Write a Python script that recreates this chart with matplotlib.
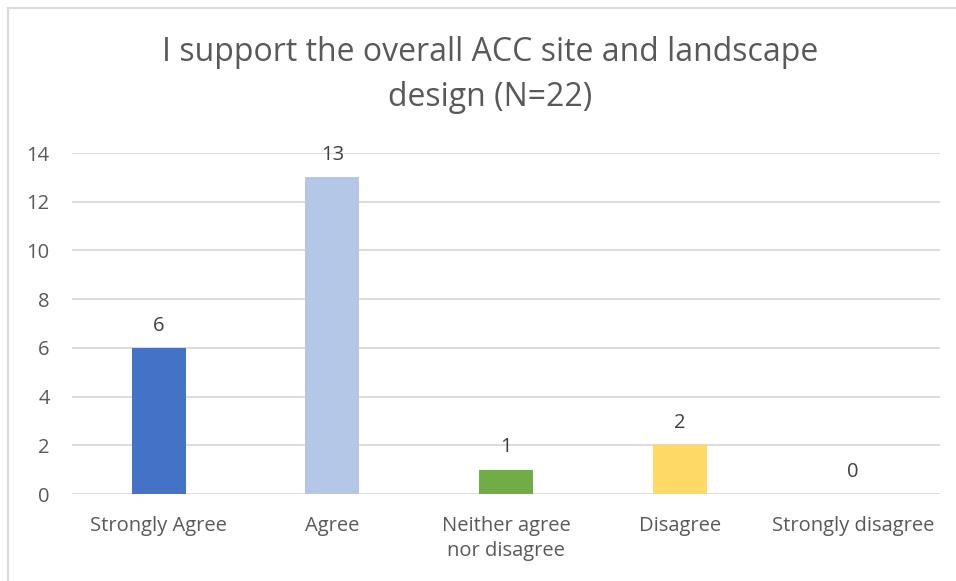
import matplotlib
matplotlib.use('Agg')
from matplotlib import pyplot as plt
from matplotlib.lines import Line2D

categories = ['Strongly Agree', 'Agree', 'Neither agree\nnor disagree', 'Disagree', 'Strongly disagree']
counts = [6, 13, 1, 2, 0]
colors = ['#4472C4', '#B4C7E7', '#70AD47', '#FFD966', '#A5A5A5']
yticks = [0, 2, 4, 6, 8, 10, 12, 14]

plt.rcParams['font.family'] = ['Open Sans', 'DejaVu Sans']
txt = '#595959'

fig = plt.figure(figsize=(9.56, 5.81), dpi=100)
ax = fig.add_axes([72/956, 87/581, 868/956, 341/581])

x = range(len(categories))
bars = ax.bar(x, counts, width=0.31, color=colors, zorder=3)
for xi, c in zip(x, counts):
    ax.text(xi, c + 0.5, str(c), ha='center', va='bottom', fontsize=14.5, color='#404040')

ax.set_xlim(-0.5, len(categories) - 0.5)
ax.set_ylim(0, 14)
ax.set_yticks(yticks)
ax.set_xticks(list(x))
ax.set_xticklabels(categories, fontsize=14.5, color=txt, linespacing=1.3)
ax.tick_params(axis='y', labelsize=14.5, labelcolor=txt, length=0, pad=16)
ax.tick_params(axis='x', length=0, pad=16)
ax.grid(axis='y', color='#D9D9D9', linewidth=1.3, zorder=0)
for s in ax.spines.values():
    s.set_visible(False)

fig.text(490/956, 1 - 75/581, 'I support the overall ACC site and landscape\ndesign (N=22)',
         ha='center', va='center', fontsize=23, color=txt, linespacing=1.45)

# chart border (top and left edges visible)
fig.add_artist(Line2D([8/956, 1], [1 - 8/581, 1 - 8/581], color='#D9D9D9', linewidth=1.5, transform=fig.transFigure))
fig.add_artist(Line2D([8/956, 8/956], [0, 1 - 8/581], color='#D9D9D9', linewidth=1.5, transform=fig.transFigure))

fig.savefig('out.png', dpi=100)
